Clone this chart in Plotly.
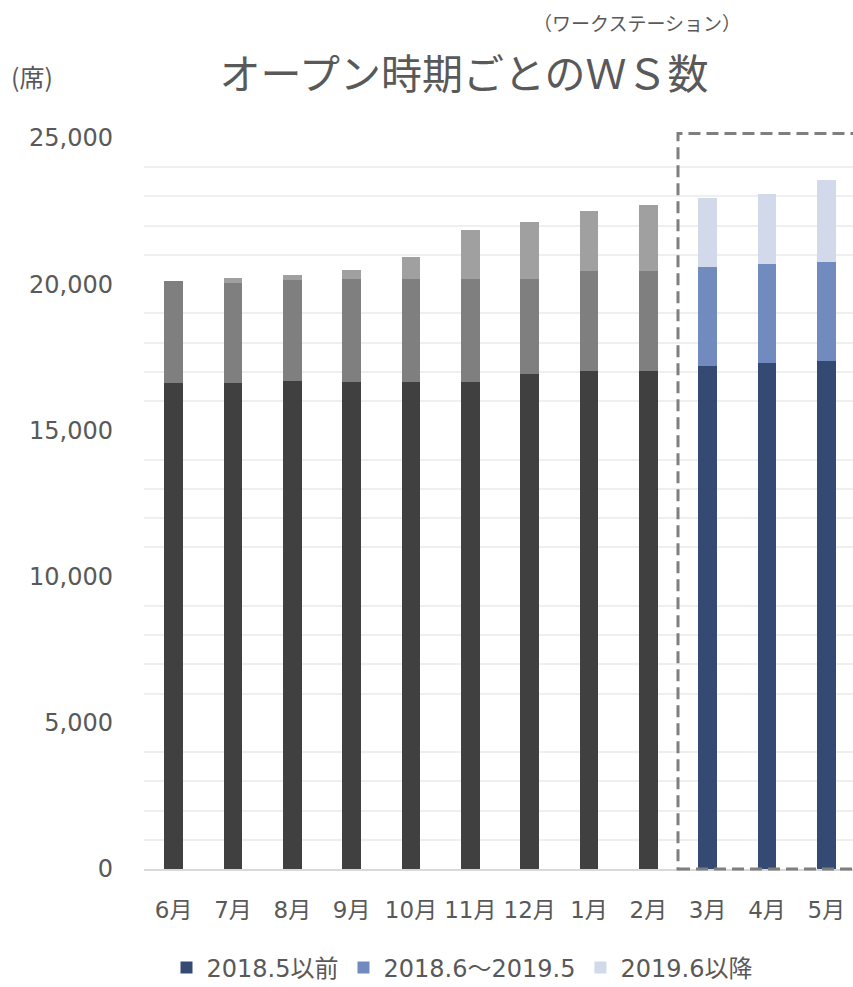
import plotly.graph_objects as go

months = ["6月", "7月", "8月", "9月", "10月", "11月", "12月", "1月", "2月", "3月", "4月", "5月"]
before_2018_5 = [16630, 16630, 16700, 16670, 16670, 16670, 16940, 17040, 17040, 17210, 17320, 17390]
from_2018_6 = [3490, 3420, 3450, 3520, 3520, 3520, 3250, 3420, 3420, 3380, 3380, 3380]
from_2019_6 = [0, 170, 170, 310, 750, 1675, 1950, 2050, 2260, 2360, 2390, 2800]
series_names = ["2018.5以前", "2018.6～2019.5", "2019.6以降"]
split = 9  # first forecast month (3月)

gray_colors = ["#404040", "#7f7f7f", "#a0a0a0"]
blue_colors = ["#354a73", "#728bbe", "#d2d9eb"]

FONT = "DejaVu Sans, Noto Sans CJK JP"
TXT = "#595959"

fig = go.Figure()
all_series = [before_2018_5, from_2018_6, from_2019_6]
for i, vals in enumerate(all_series):
    fig.add_trace(go.Bar(x=months[:split], y=vals[:split], marker_color=gray_colors[i],
                         showlegend=False, legendgroup=series_names[i], name=series_names[i],
                         marker_line_width=0))
for i, vals in enumerate(all_series):
    fig.add_trace(go.Bar(x=months[split:], y=vals[split:], marker_color=blue_colors[i],
                         showlegend=True, legendgroup=series_names[i], name=series_names[i],
                         marker_line_width=0))

fig.add_shape(type="rect", xref="x", yref="paper", x0=split - 0.5, x1=len(months) + 0.2,
              y0=0, y1=1.006, line=dict(color="#7f7f7f", width=3, dash="12px,6px"),
              fillcolor="rgba(0,0,0,0)", layer="above")

fig.update_layout(
    width=853, height=987,
    margin=dict(l=144, r=0, t=138, b=118),
    barmode="stack", bargap=0.68,
    plot_bgcolor="white", paper_bgcolor="white",
    font=dict(family=FONT, color=TXT, size=23),
    title=dict(text="オープン時期ごとのＷＳ数", x=464 / 853, xanchor="center",
               y=1 - 75 / 987, yanchor="middle",
               font=dict(family="Noto Sans CJK JP", size=41, color=TXT)),
    legend=dict(orientation="h", xref="container", x=462 / 853, xanchor="center",
                yref="container", y=1 - 968 / 987, yanchor="middle",
                traceorder="normal", font=dict(size=24, color=TXT), itemwidth=30),
    xaxis=dict(range=[-0.5, len(months) - 0.5 - 3 / 59.3], showline=True, linecolor="#d9d9d9",
               linewidth=1.5, ticks="", tickfont=dict(size=23, color=TXT), ticklabelstandoff=20,
               fixedrange=True),
    yaxis=dict(range=[0, 25000], dtick=5000, tickformat=",", showgrid=False, zeroline=False,
               tickfont=dict(size=24, color=TXT), ticklabelstandoff=30,
               minor=dict(dtick=1000, showgrid=True, gridcolor="#efefef", gridwidth=1.5)),
    annotations=[
        dict(text="（ワークステーション）", xref="paper", yref="paper", x=(637 - 144) / 709,
             y=1 + (138 - 22) / 731.5, xanchor="center", yanchor="middle", showarrow=False,
             font=dict(family="Noto Sans CJK JP", size=19, color=TXT)),
        dict(text="(席)", xref="paper", yref="paper", x=(9 - 144) / 709,
             y=1 + (138 - 76) / 731.5, xanchor="left", yanchor="middle", showarrow=False,
             font=dict(family="Noto Sans CJK JP", size=25, color=TXT)),
    ],
)

fig.write_html("out.html")
